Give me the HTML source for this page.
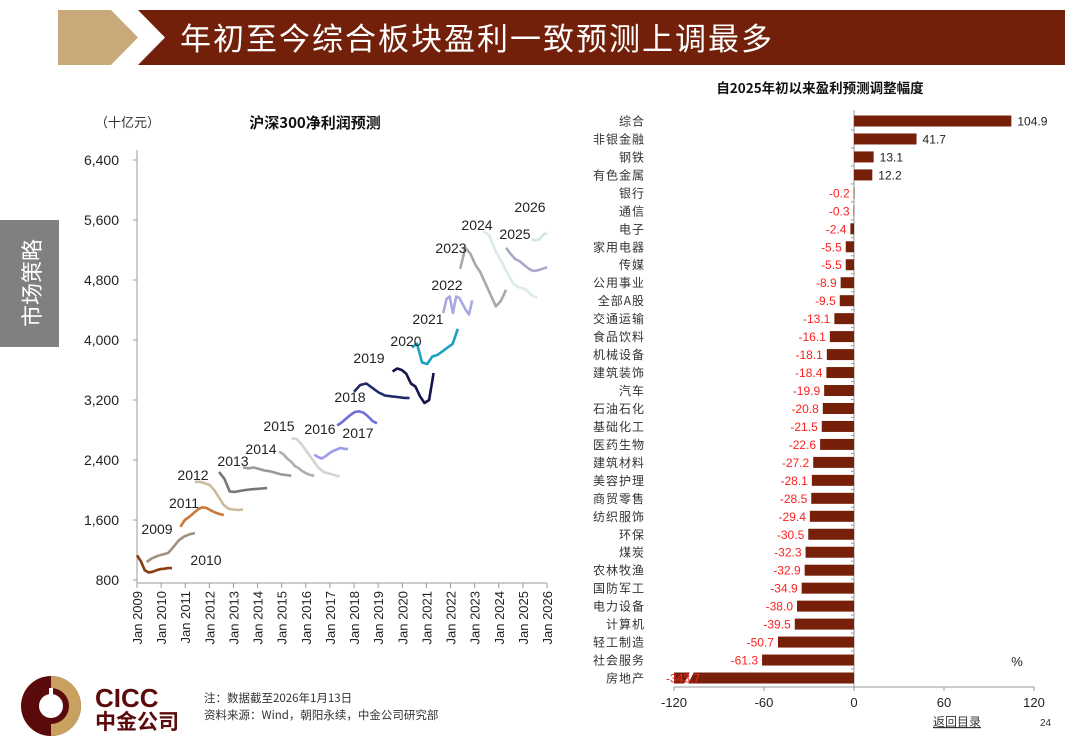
<!DOCTYPE html>
<html><head><meta charset="utf-8">
<style>
body{margin:0;width:1080px;height:755px;background:#fff;overflow:hidden;position:relative;font-family:"Liberation Sans","Noto Sans CJK SC",sans-serif;}
.abs{position:absolute;}
</style></head>
<body>
<svg class="abs" style="left:0;top:0" width="1080" height="755">
  <polygon points="58,10 111,10 138,37.5 111,65 58,65" fill="#C8A97A"/>
  <polygon points="138,10 1065,10 1065,65 138,65 165,37.5" fill="#72200A"/>
  <text x="180" y="50" font-size="31" fill="#fff" font-family="'Noto Sans CJK SC',sans-serif" letter-spacing="2">年初至今综合板块盈利一致预测上调最多</text>
  <rect x="0" y="220" width="59" height="127" fill="#808080"/>
  <text transform="translate(40,283) rotate(-90)" text-anchor="middle" font-size="22" fill="#fff" font-family="'Noto Sans CJK SC',sans-serif">市场策略</text>
  <g>
    <circle cx="51" cy="706" r="30" fill="#5A0A0A"/>
    <path d="M51,676 A30,30 0 0 1 51,736 L51,724 A18,18 0 0 0 51,688 Z" fill="#C8A060"/>
    <circle cx="51" cy="706" r="12" fill="#fff"/>
    <rect x="49" y="688" width="4" height="18" fill="#fff"/>
    <text x="95" y="707" font-size="26" font-weight="bold" fill="#5A0A0A">CICC</text>
    <text x="95" y="729" font-size="21" font-weight="bold" fill="#5A0A0A" font-family="'Noto Sans CJK SC',sans-serif">中金公司</text>
  </g>
  <text x="204" y="702" font-size="11.5" fill="#333" font-family="'Noto Sans CJK SC',sans-serif">注：数据截至2026年1月13日</text>
  <text x="204" y="719" font-size="11.5" fill="#333" font-family="'Noto Sans CJK SC',sans-serif">资料来源：Wind，朝阳永续，中金公司研究部</text>
  <text x="933" y="726" font-size="12" fill="#333" text-decoration="underline" font-family="'Noto Sans CJK SC',sans-serif">返回目录</text>
  <text x="1040" y="726" font-size="10" fill="#333">24</text>
  <g id="left"></g>
  <g id="right"></g>
</svg>
<script>
const NS='http://www.w3.org/2000/svg';
function mk(tag,attrs,parent,txt){const e=document.createElementNS(NS,tag);for(const k in attrs)e.setAttribute(k,attrs[k]);if(txt!==undefined)e.textContent=txt;parent.appendChild(e);return e;}

/* ---------- Left chart data ---------- */
const yTicks=[800,1600,2400,3200,4000,4800,5600,6400];
const xYears=[2009,2010,2011,2012,2013,2014,2015,2016,2017,2018,2019,2020,2021,2022,2023,2024,2025,2026];
const seriesNames=['s2009a','s2009b','s2011','s2012','s2013','s2014','s2015','s2016','s2017','s2018a','s2018b','s2019','s2020','s2021','s2023','s2024','s2025','s2026'];
const seriesStart=[2009.0,2009.4,2010.8,2011.4,2012.4,2013.4,2014.9,2015.4,2016.35,2017.3,2018.0,2019.6,2020.4,2021.7,2022.4,2023.35,2024.3,2025.35];
const seriesEnd=[2010.45,2011.4,2012.6,2013.4,2014.4,2015.4,2016.35,2017.4,2017.75,2018.95,2020.3,2021.3,2022.3,2022.9,2024.3,2025.6,2026.0,2026.0];
const seriesValues=[
 [1130,1050,930,900,910,930,945,950,960,958],
 [1040,1090,1120,1140,1160,1240,1330,1380,1410,1425],
 [1510,1600,1640,1690,1740,1770,1760,1730,1700,1680,1665],
 [2110,2110,2090,2070,2000,1900,1800,1750,1740,1735,1740],
 [2240,2150,1980,1975,1990,2000,2010,2015,2020,2027],
 [2300,2290,2300,2280,2260,2250,2230,2210,2200,2190],
 [2510,2480,2420,2380,2320,2290,2250,2220,2200,2190],
 [2690,2680,2600,2500,2400,2300,2240,2220,2200,2180],
 [2470,2440,2420,2450,2490,2520,2540,2560,2550,2545],
 [2860,2900,2950,3000,3040,3050,3030,2980,2920,2890],
 [3310,3400,3420,3360,3300,3260,3250,3240,3230,3225],
 [3580,3620,3600,3550,3420,3380,3250,3160,3200,3560],
 [3900,3950,3700,3680,3780,3800,3850,3900,3950,4150],
 [4360,4550,4580,4360,4580,4560,4480,4400,4340,4530],
 [4950,5230,5150,5000,4900,4750,4600,4450,4520,4670],
 [5450,5400,5200,5050,4900,4750,4700,4680,4600,4560],
 [5230,5150,5080,5050,5000,4950,4920,4930,4950,4970],
 [5340,5330,5340,5400,5430]
];
const seriesColors=['#8B3A12','#A09282','#C8783A','#CDBB9E','#777777','#9A9A9A','#AEAEAE','#D4D4D4','#9C9CE8','#6E6ED8','#1E2A6A','#12144A','#1AA2C0','#A8A8E2','#A8A8A8','#DCEBEA','#AAA8CA','#D2E8E8'];
const yearLabels=['2026','2024','2025','2023','2022','2021','2020','2019','2018','2015','2016','2017','2014','2013','2012','2011','2009','2010'];
const yearLabelPos=[[530,212],[477,230],[515,239],[451,253],[447,290],[428,324],[406,346],[369,363],[350,402],[279,431],[320,434],[358,438],[261,454],[233,466],[193,480],[184,508],[157,534],[206,565]];

const L=document.getElementById('left');
const X0=137,X1=547,Y0=583;
function xs(t){return X0+(t-2009)*(X1-X0)/17;}
function ys(v){return 580-(v-800)*60/800;}
mk('text',{x:95,y:127,'font-size':13,fill:'#333','font-family':"'Noto Sans CJK SC',sans-serif"},L,'（十亿元）');
mk('text',{x:315,y:128,'font-size':15,'font-weight':'bold','text-anchor':'middle',fill:'#111','font-family':"'Noto Sans CJK SC',sans-serif"},L,'沪深300净利润预测');
const ax=mk('g',{},L);


mk('line',{x1:X0,y1:150,x2:X0,y2:Y0,stroke:'#999'},ax);
mk('line',{x1:X0,y1:Y0,x2:X1,y2:Y0,stroke:'#999'},ax);
yTicks.forEach(v=>{
  mk('line',{x1:X0-4,y1:ys(v),x2:X0,y2:ys(v),stroke:'#999'},ax);
  const t=mk('text',{x:119,y:ys(v)+5,'text-anchor':'end','font-size':14,fill:'#222'},ax,v.toLocaleString('en-US'));
  
  
});
xYears.forEach(y=>{
  const x=xs(y);
  mk('line',{x1:x,y1:Y0,x2:x,y2:Y0+5,stroke:'#999'},ax);
  const t=mk('text',{transform:`translate(${x+5},${Y0+8}) rotate(-90)`,'text-anchor':'end','font-size':13,fill:'#222'},ax,'Jan '+y);
  
  
});
seriesValues.forEach((vals,i)=>{
  const n=vals.length,s=seriesStart[i],e=seriesEnd[i];
  const pts=vals.map((v,j)=>xs(s+(e-s)*j/(n-1)).toFixed(1)+','+ys(v).toFixed(1)).join(' ');
  const p=mk('polyline',{points:pts,fill:'none',stroke:seriesColors[i],'stroke-width':2.6,'stroke-linejoin':'round'},L);
  
  
});
yearLabels.forEach((lb,i)=>{
  const t=mk('text',{x:yearLabelPos[i][0],y:yearLabelPos[i][1],'text-anchor':'middle','font-size':14,fill:'#222'},L,lb);
  
  
});

/* ---------- Right chart data ---------- */
const sectors=['综合','非银金融','钢铁','有色金属','银行','通信','电子','家用电器','传媒','公用事业','全部A股','交通运输','食品饮料','机械设备','建筑装饰','汽车','石油石化','基础化工','医药生物','建筑材料','美容护理','商贸零售','纺织服饰','环保','煤炭','农林牧渔','国防军工','电力设备','计算机','轻工制造','社会服务','房地产'];
const changes=[104.9,41.7,13.1,12.2,-0.2,-0.3,-2.4,-5.5,-5.5,-8.9,-9.5,-13.1,-16.1,-18.1,-18.4,-19.9,-20.8,-21.5,-22.6,-27.2,-28.1,-28.5,-29.4,-30.5,-32.3,-32.9,-34.9,-38.0,-39.5,-50.7,-61.3,-343.7];
const xTicksR=[-120,-60,0,60,120];

const R=document.getElementById('right');
const Z=854,K=1.5,RT=110,RB=687;
function xr(v){return Z+Math.max(v,-120)*K;}
const step=(678-121)/(sectors.length-1);
function yr(i){return 121+i*step;}
mk('text',{x:820,y:93,'font-size':13.5,'font-weight':'bold','text-anchor':'middle',fill:'#111','font-family':"'Noto Sans CJK SC',sans-serif"},R,'自2025年初以来盈利预测调整幅度');
const rax=mk('g',{},R);


mk('line',{x1:xr(-120),y1:RB,x2:xr(120),y2:RB,stroke:'#999'},rax);
xTicksR.forEach(v=>{
  mk('line',{x1:xr(v),y1:RB,x2:xr(v),y2:RB+4,stroke:'#999'},rax);
  const t=mk('text',{x:xr(v),y:RB+20,'text-anchor':'middle','font-size':13,fill:'#222'},rax,String(v));
  
  
});
mk('text',{x:1017,y:666,'text-anchor':'middle','font-size':13,fill:'#222'},R,'%');
sectors.forEach((s,i)=>{
  const v=changes[i],y=yr(i);
  const x1=Math.min(Z,xr(v)),w=Math.abs(xr(v)-Z);
  const r=mk('rect',{x:x1,y:y-5.5,width:Math.max(w,0.6),height:11,fill:'#76200A'},R);
  
  
  const c=mk('text',{x:645,y:y+4.5,'text-anchor':'end','font-size':12,fill:'#333','letter-spacing':'1','font-family':"'Noto Sans CJK SC',sans-serif"},R,s);
  
  
  if(v<-120){
    const b=mk('path',{d:`M${xr(-120)+10},${y+6} L${xr(-120)+16},${y-6} L${xr(-120)+20},${y-6} L${xr(-120)+14},${y+6} Z`,fill:'#fff'},R);
    
    
  }
  let lt;
  if(v>=0){lt=mk('text',{x:xr(v)+6,y:y+4.5,'font-size':12,fill:'#222'},R,v.toFixed(1));}
  else{lt=mk('text',{x:xr(v)-4,y:y+4.5,'text-anchor':'end','font-size':12,fill:'#FF2020'},R,v.toFixed(1));
       if(v<-120)lt.setAttribute('x',xr(-120)+26);}
  
  
  mk('line',{x1:Z-3,y1:y+step/2,x2:Z,y2:y+step/2,stroke:'#999'},rax);
});
mk('line',{x1:Z,y1:RT,x2:Z,y2:RB,stroke:'#999'},rax);
</script>
</body></html>
